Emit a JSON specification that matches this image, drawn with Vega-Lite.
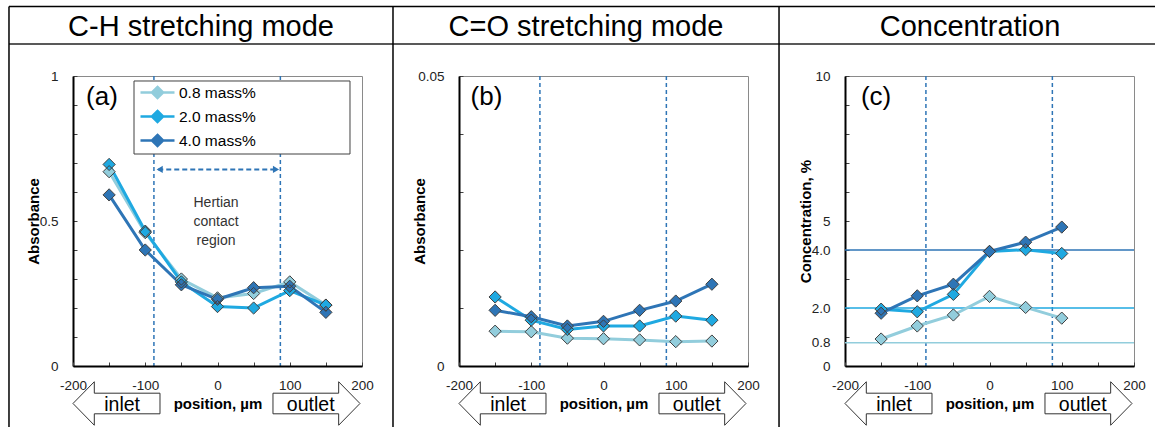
{
  "$schema": "https://vega.github.io/schema/vega-lite/v6.json",
  "background": "white",
  "autosize": {"type": "pad"},
  "padding": {"left": 7, "top": 5, "right": 0, "bottom": 0},
  "spacing": 97,
  "bounds": "flush",
  "datasets": {
    "ch": [
      {"series": "0.8 mass%", "position": -150, "absorbance": 0.67},
      {"series": "0.8 mass%", "position": -100, "absorbance": 0.46},
      {"series": "0.8 mass%", "position": -50, "absorbance": 0.30},
      {"series": "0.8 mass%", "position": 0, "absorbance": 0.235},
      {"series": "0.8 mass%", "position": 50, "absorbance": 0.25},
      {"series": "0.8 mass%", "position": 100, "absorbance": 0.29},
      {"series": "0.8 mass%", "position": 150, "absorbance": 0.21},
      {"series": "2.0 mass%", "position": -150, "absorbance": 0.695},
      {"series": "2.0 mass%", "position": -100, "absorbance": 0.465},
      {"series": "2.0 mass%", "position": -50, "absorbance": 0.29},
      {"series": "2.0 mass%", "position": 0, "absorbance": 0.205},
      {"series": "2.0 mass%", "position": 50, "absorbance": 0.20},
      {"series": "2.0 mass%", "position": 100, "absorbance": 0.26},
      {"series": "2.0 mass%", "position": 150, "absorbance": 0.21},
      {"series": "4.0 mass%", "position": -150, "absorbance": 0.59},
      {"series": "4.0 mass%", "position": -100, "absorbance": 0.40},
      {"series": "4.0 mass%", "position": -50, "absorbance": 0.28},
      {"series": "4.0 mass%", "position": 0, "absorbance": 0.23},
      {"series": "4.0 mass%", "position": 50, "absorbance": 0.27},
      {"series": "4.0 mass%", "position": 100, "absorbance": 0.275},
      {"series": "4.0 mass%", "position": 150, "absorbance": 0.185}
    ],
    "co": [
      {"series": "0.8 mass%", "position": -150, "absorbance": 0.0060},
      {"series": "0.8 mass%", "position": -100, "absorbance": 0.0059},
      {"series": "0.8 mass%", "position": -50, "absorbance": 0.0048},
      {"series": "0.8 mass%", "position": 0, "absorbance": 0.0047},
      {"series": "0.8 mass%", "position": 50, "absorbance": 0.0045},
      {"series": "0.8 mass%", "position": 100, "absorbance": 0.0042},
      {"series": "0.8 mass%", "position": 150, "absorbance": 0.0043},
      {"series": "2.0 mass%", "position": -150, "absorbance": 0.0119},
      {"series": "2.0 mass%", "position": -100, "absorbance": 0.0079},
      {"series": "2.0 mass%", "position": -50, "absorbance": 0.0063},
      {"series": "2.0 mass%", "position": 0, "absorbance": 0.0069},
      {"series": "2.0 mass%", "position": 50, "absorbance": 0.0069},
      {"series": "2.0 mass%", "position": 100, "absorbance": 0.0086},
      {"series": "2.0 mass%", "position": 150, "absorbance": 0.0079},
      {"series": "4.0 mass%", "position": -150, "absorbance": 0.0096},
      {"series": "4.0 mass%", "position": -100, "absorbance": 0.0085},
      {"series": "4.0 mass%", "position": -50, "absorbance": 0.0069},
      {"series": "4.0 mass%", "position": 0, "absorbance": 0.0077},
      {"series": "4.0 mass%", "position": 50, "absorbance": 0.0096},
      {"series": "4.0 mass%", "position": 100, "absorbance": 0.0112},
      {"series": "4.0 mass%", "position": 150, "absorbance": 0.0141}
    ],
    "conc": [
      {"series": "0.8 mass%", "position": -150, "concentration": 0.93},
      {"series": "0.8 mass%", "position": -100, "concentration": 1.38},
      {"series": "0.8 mass%", "position": -50, "concentration": 1.76},
      {"series": "0.8 mass%", "position": 0, "concentration": 2.40},
      {"series": "0.8 mass%", "position": 50, "concentration": 2.02},
      {"series": "0.8 mass%", "position": 100, "concentration": 1.65},
      {"series": "2.0 mass%", "position": -150, "concentration": 1.96},
      {"series": "2.0 mass%", "position": -100, "concentration": 1.87},
      {"series": "2.0 mass%", "position": -50, "concentration": 2.47},
      {"series": "2.0 mass%", "position": 0, "concentration": 3.95},
      {"series": "2.0 mass%", "position": 50, "concentration": 4.01},
      {"series": "2.0 mass%", "position": 100, "concentration": 3.88},
      {"series": "4.0 mass%", "position": -150, "concentration": 1.82},
      {"series": "4.0 mass%", "position": -100, "concentration": 2.42},
      {"series": "4.0 mass%", "position": -50, "concentration": 2.82},
      {"series": "4.0 mass%", "position": 0, "concentration": 3.95},
      {"series": "4.0 mass%", "position": 50, "concentration": 4.27},
      {"series": "4.0 mass%", "position": 100, "concentration": 4.79}
    ],
    "nominal": [
      {"series": "0.8 mass%", "level": 0.8},
      {"series": "2.0 mass%", "level": 2.0},
      {"series": "4.0 mass%", "level": 4.0}
    ],
    "contact": [{"edge": -88}, {"edge": 87}]
  },
  "hconcat": [
    {
      "width": 289,
      "height": 290,
      "layer": [
        {"data": {"values": [{}]}, "mark": {"type": "rule", "color": "#000", "strokeWidth": 1.5},
         "encoding": {"x": {"datum": -288.6, "type": "quantitative", "scale": {"domain": [-200, 200], "nice": false, "zero": false}}, "x2": {"datum": 1297.6},
                      "y": {"datum": 1.23966, "type": "quantitative", "scale": {"domain": [0, 1], "nice": false, "zero": false}}}},
        {"data": {"values": [{}]}, "mark": {"type": "rule", "color": "#222", "strokeWidth": 1.5},
         "encoding": {"x": {"datum": -288.6, "type": "quantitative", "scale": {"domain": [-200, 200], "nice": false, "zero": false}}, "x2": {"datum": 1297.6},
                      "y": {"datum": 1.11034, "type": "quantitative", "scale": {"domain": [0, 1], "nice": false, "zero": false}}}},
        {"data": {"values": [{}]}, "mark": {"type": "rule", "color": "#000", "strokeWidth": 1.5},
         "encoding": {"x": {"datum": -288.6, "type": "quantitative", "scale": {"domain": [-200, 200], "nice": false, "zero": false}},
                      "y": {"datum": 1.23966, "type": "quantitative", "scale": {"domain": [0, 1], "nice": false, "zero": false}}, "y2": {"datum": -0.21034}}},
        {"data": {"values": [{}]}, "mark": {"type": "rule", "color": "#000", "strokeWidth": 1.5},
         "encoding": {"x": {"datum": 242.9, "type": "quantitative", "scale": {"domain": [-200, 200], "nice": false, "zero": false}},
                      "y": {"datum": 1.23966, "type": "quantitative", "scale": {"domain": [0, 1], "nice": false, "zero": false}}, "y2": {"datum": -0.21034}}},
        {"data": {"values": [{}]}, "mark": {"type": "rule", "color": "#000", "strokeWidth": 1.5},
         "encoding": {"x": {"datum": 777.2, "type": "quantitative", "scale": {"domain": [-200, 200], "nice": false, "zero": false}},
                      "y": {"datum": 1.23966, "type": "quantitative", "scale": {"domain": [0, 1], "nice": false, "zero": false}}, "y2": {"datum": -0.21034}}},
        {"data": {"values": [{"label": "C-H stretching mode"}]}, "mark": {"type": "text", "fontSize": 29, "align": "center", "baseline": "middle", "color": "#000"},
         "encoding": {"x": {"datum": -22.8, "type": "quantitative", "scale": {"domain": [-200, 200], "nice": false, "zero": false}},
                      "y": {"datum": 1.16897, "type": "quantitative", "scale": {"domain": [0, 1], "nice": false, "zero": false}},
                      "text": {"field": "label"}}},
        {"data": {"name": "contact"}, "mark": {"type": "rule", "color": "#2E75B6", "strokeWidth": 1.5, "strokeDash": [4, 3]},
         "encoding": {"x": {"field": "edge", "type": "quantitative", "scale": {"domain": [-200, 200], "nice": false, "zero": false}}}},
        {"data": {"values": [{}]}, "mark": {"type": "rect", "fill": "#ffffff", "stroke": "#404040", "strokeWidth": 1},
         "encoding": {"x": {"datum": -115.57, "type": "quantitative", "scale": {"domain": [-200, 200], "nice": false, "zero": false}}, "x2": {"datum": 183.39},
                      "y": {"datum": 0.98276, "type": "quantitative", "scale": {"domain": [0, 1], "nice": false, "zero": false}}, "y2": {"datum": 0.73103}}},
        {"data": {"values": [{}]}, "mark": {"type": "rule", "color": "#2E75B6", "strokeWidth": 2, "strokeDash": [5, 3]},
         "encoding": {"x": {"datum": -82, "type": "quantitative", "scale": {"domain": [-200, 200], "nice": false, "zero": false}}, "x2": {"datum": 82},
                      "y": {"datum": 0.678, "type": "quantitative", "scale": {"domain": [0, 1], "nice": false, "zero": false}}}},
        {"data": {"values": [{}]}, "mark": {"type": "point", "shape": "triangle-left", "size": 50, "filled": true, "color": "#2E75B6", "opacity": 1},
         "encoding": {"x": {"datum": -80, "type": "quantitative", "scale": {"domain": [-200, 200], "nice": false, "zero": false}},
                      "y": {"datum": 0.678, "type": "quantitative", "scale": {"domain": [0, 1], "nice": false, "zero": false}}}},
        {"data": {"values": [{}]}, "mark": {"type": "point", "shape": "triangle-right", "size": 50, "filled": true, "color": "#2E75B6", "opacity": 1},
         "encoding": {"x": {"datum": 81, "type": "quantitative", "scale": {"domain": [-200, 200], "nice": false, "zero": false}},
                      "y": {"datum": 0.678, "type": "quantitative", "scale": {"domain": [0, 1], "nice": false, "zero": false}}}},
        {"data": {"values": [{"label": "Hertian contact region"}]}, "mark": {"type": "text", "fontSize": 14, "lineBreak": " ", "lineHeight": 19, "align": "center", "baseline": "middle", "color": "#333"},
         "encoding": {"x": {"datum": -2, "type": "quantitative", "scale": {"domain": [-200, 200], "nice": false, "zero": false}},
                      "y": {"datum": 0.562, "type": "quantitative", "scale": {"domain": [0, 1], "nice": false, "zero": false}},
                      "text": {"field": "label"}}},
        {"data": {"name": "ch"}, "mark": {"type": "line", "strokeWidth": 3},
         "encoding": {
           "x": {"field": "position", "type": "quantitative", "scale": {"domain": [-200, 200], "nice": false, "zero": false},
                 "axis": {"values": [-200, -150, -100, -50, 0, 50, 100, 150, 200], "tickCount": 100, "labelOverlap": false, "labelPadding": 16, "labelExpr": "datum.value % 100 === 0 ? '' + datum.value : ''", "title": "position, µm", "titleX": 144.5, "titleY": 37, "titleBaseline": "middle", "titleAlign": "center", "zindex": 1}},
           "y": {"field": "absorbance", "type": "quantitative", "scale": {"domain": [0, 1], "nice": false, "zero": false},
                 "axis": {"values": [0, 0.1, 0.2, 0.3, 0.4, 0.5, 0.6, 0.7, 0.8, 0.9, 1], "tickCount": 100, "labelOverlap": false, "labelPadding": 19, "labelExpr": "(datum.value === 0 || datum.value === 0.5 || datum.value === 1) ? '' + datum.value : ''", "title": "Absorbance", "titleX": -40, "titleY": 145, "titleAngle": -90, "titleBaseline": "middle", "titleAlign": "center"}},
           "stroke": {"field": "series", "type": "nominal", "title": null, "scale": {"domain": ["0.8 mass%", "2.0 mass%", "4.0 mass%"], "range": ["#92CDDC", "#1FA9E1", "#2E75B6"]},
                      "legend": {"orient": "none", "legendX": 61, "legendY": 2, "padding": 5, "symbolType": "M-1,0 L0.425,0 M1.825,0 L3.25,0 M1.125,-0.7 L1.825,0 L1.125,0.7 L0.425,0 Z", "symbolSize": 256, "symbolStrokeWidth": 2.5, "labelFontSize": 15.5, "labelOffset": 21, "rowPadding": 1, "labelColor": "#000"}}
         }},
        {"data": {"name": "ch"}, "mark": {"type": "point", "shape": "diamond", "filled": true, "size": 150, "opacity": 1},
         "encoding": {
           "x": {"field": "position", "type": "quantitative", "scale": {"domain": [-200, 200], "nice": false, "zero": false}},
           "y": {"field": "absorbance", "type": "quantitative", "scale": {"domain": [0, 1], "nice": false, "zero": false}},
           "fill": {"field": "series", "type": "nominal", "title": null, "scale": {"domain": ["0.8 mass%", "2.0 mass%", "4.0 mass%"], "range": ["#92CDDC", "#1FA9E1", "#2E75B6"]},
                    "legend": {"orient": "none", "legendX": 61, "legendY": 2, "padding": 5, "symbolType": "M-1,0 L0.425,0 M1.825,0 L3.25,0 M1.125,-0.7 L1.825,0 L1.125,0.7 L0.425,0 Z", "symbolSize": 256, "symbolStrokeWidth": 2.5, "labelFontSize": 15.5, "labelOffset": 21, "rowPadding": 1, "labelColor": "#000"}}
         }},
        {"data": {"name": "ch"}, "mark": {"type": "point", "shape": "diamond", "filled": false, "size": 150, "stroke": "#404040", "strokeWidth": 1, "opacity": 1},
         "encoding": {
           "x": {"field": "position", "type": "quantitative", "scale": {"domain": [-200, 200], "nice": false, "zero": false}},
           "y": {"field": "absorbance", "type": "quantitative", "scale": {"domain": [0, 1], "nice": false, "zero": false}}
         }},
        {"data": {"values": [{"label": "(a)"}]}, "mark": {"type": "text", "fontSize": 26, "align": "center", "baseline": "middle", "color": "#000"},
         "encoding": {"x": {"datum": -160, "type": "quantitative", "scale": {"domain": [-200, 200], "nice": false, "zero": false}},
                      "y": {"datum": 0.92759, "type": "quantitative", "scale": {"domain": [0, 1], "nice": false, "zero": false}},
                      "text": {"field": "label"}}},
        {"data": {"values": [{}]}, "mark": {"type": "point", "shape": "M-1,0 L-0.51,-0.5 L-0.51,-0.237 L1,-0.237 L1,0.237 L-0.51,0.237 L-0.51,0.5 Z", "size": 7569, "filled": true, "fill": "#ffffff", "stroke": "#333333", "strokeWidth": 1, "opacity": 1},
         "encoding": {"x": {"datum": -139.8, "type": "quantitative", "scale": {"domain": [-200, 200], "nice": false, "zero": false}},
                      "y": {"datum": -0.12931, "type": "quantitative", "scale": {"domain": [0, 1], "nice": false, "zero": false}}}},
        {"data": {"values": [{}]}, "mark": {"type": "point", "shape": "M1,0 L0.51,-0.5 L0.51,-0.237 L-1,-0.237 L-1,0.237 L0.51,0.237 L0.51,0.5 Z", "size": 7569, "filled": true, "fill": "#ffffff", "stroke": "#333333", "strokeWidth": 1, "opacity": 1},
         "encoding": {"x": {"datum": 137, "type": "quantitative", "scale": {"domain": [-200, 200], "nice": false, "zero": false}},
                      "y": {"datum": -0.12931, "type": "quantitative", "scale": {"domain": [0, 1], "nice": false, "zero": false}}}},
        {"data": {"values": [{"label": "inlet"}]}, "mark": {"type": "text", "fontSize": 19.5, "align": "center", "baseline": "middle", "color": "#000"},
         "encoding": {"x": {"datum": -132, "type": "quantitative", "scale": {"domain": [-200, 200], "nice": false, "zero": false}},
                      "y": {"datum": -0.13448, "type": "quantitative", "scale": {"domain": [0, 1], "nice": false, "zero": false}},
                      "text": {"field": "label"}}},
        {"data": {"values": [{"label": "outlet"}]}, "mark": {"type": "text", "fontSize": 19.5, "align": "center", "baseline": "middle", "color": "#000"},
         "encoding": {"x": {"datum": 129, "type": "quantitative", "scale": {"domain": [-200, 200], "nice": false, "zero": false}},
                      "y": {"datum": -0.13448, "type": "quantitative", "scale": {"domain": [0, 1], "nice": false, "zero": false}},
                      "text": {"field": "label"}}}
      ]
    },
    {
      "width": 289,
      "height": 290,
      "layer": [
        {"data": {"values": [{"label": "C=O stretching mode"}]}, "mark": {"type": "text", "fontSize": 29, "align": "center", "baseline": "middle", "color": "#000"},
         "encoding": {"x": {"datum": -24.2, "type": "quantitative", "scale": {"domain": [-200, 200], "nice": false, "zero": false}},
                      "y": {"datum": 0.058448, "type": "quantitative", "scale": {"domain": [0, 0.05], "nice": false, "zero": false}},
                      "text": {"field": "label"}}},
        {"data": {"name": "contact"}, "mark": {"type": "rule", "color": "#2E75B6", "strokeWidth": 1.5, "strokeDash": [4, 3]},
         "encoding": {"x": {"field": "edge", "type": "quantitative", "scale": {"domain": [-200, 200], "nice": false, "zero": false}}}},
        {"data": {"name": "co"}, "mark": {"type": "line", "strokeWidth": 3},
         "encoding": {
           "x": {"field": "position", "type": "quantitative", "scale": {"domain": [-200, 200], "nice": false, "zero": false},
                 "axis": {"values": [-200, -150, -100, -50, 0, 50, 100, 150, 200], "tickCount": 100, "labelOverlap": false, "labelPadding": 16, "labelExpr": "datum.value % 100 === 0 ? '' + datum.value : ''", "title": "position, µm", "titleX": 144.5, "titleY": 37, "titleBaseline": "middle", "titleAlign": "center", "zindex": 1}},
           "y": {"field": "absorbance", "type": "quantitative", "scale": {"domain": [0, 0.05], "nice": false, "zero": false},
                 "axis": {"values": [0, 0.01, 0.02, 0.03, 0.04, 0.05], "tickCount": 100, "labelOverlap": false, "labelPadding": 19, "labelExpr": "(datum.value === 0 || datum.value === 0.05) ? '' + datum.value : ''", "title": "Absorbance", "titleX": -40, "titleY": 145, "titleAngle": -90, "titleBaseline": "middle", "titleAlign": "center"}},
           "stroke": {"field": "series", "type": "nominal", "title": null, "scale": {"domain": ["0.8 mass%", "2.0 mass%", "4.0 mass%"], "range": ["#92CDDC", "#1FA9E1", "#2E75B6"]}}
         }},
        {"data": {"name": "co"}, "mark": {"type": "point", "shape": "diamond", "filled": true, "size": 150, "opacity": 1},
         "encoding": {
           "x": {"field": "position", "type": "quantitative", "scale": {"domain": [-200, 200], "nice": false, "zero": false}},
           "y": {"field": "absorbance", "type": "quantitative", "scale": {"domain": [0, 0.05], "nice": false, "zero": false}},
           "fill": {"field": "series", "type": "nominal", "title": null, "scale": {"domain": ["0.8 mass%", "2.0 mass%", "4.0 mass%"], "range": ["#92CDDC", "#1FA9E1", "#2E75B6"]}}
         }},
        {"data": {"name": "co"}, "mark": {"type": "point", "shape": "diamond", "filled": false, "size": 150, "stroke": "#404040", "strokeWidth": 1, "opacity": 1},
         "encoding": {
           "x": {"field": "position", "type": "quantitative", "scale": {"domain": [-200, 200], "nice": false, "zero": false}},
           "y": {"field": "absorbance", "type": "quantitative", "scale": {"domain": [0, 0.05], "nice": false, "zero": false}}
         }},
        {"data": {"values": [{"label": "(b)"}]}, "mark": {"type": "text", "fontSize": 26, "align": "center", "baseline": "middle", "color": "#000"},
         "encoding": {"x": {"datum": -162, "type": "quantitative", "scale": {"domain": [-200, 200], "nice": false, "zero": false}},
                      "y": {"datum": 0.046379, "type": "quantitative", "scale": {"domain": [0, 0.05], "nice": false, "zero": false}},
                      "text": {"field": "label"}}},
        {"data": {"values": [{}]}, "mark": {"type": "point", "shape": "M-1,0 L-0.51,-0.5 L-0.51,-0.237 L1,-0.237 L1,0.237 L-0.51,0.237 L-0.51,0.5 Z", "size": 7569, "filled": true, "fill": "#ffffff", "stroke": "#333333", "strokeWidth": 1, "opacity": 1},
         "encoding": {"x": {"datum": -139.8, "type": "quantitative", "scale": {"domain": [-200, 200], "nice": false, "zero": false}},
                      "y": {"datum": -0.006466, "type": "quantitative", "scale": {"domain": [0, 0.05], "nice": false, "zero": false}}}},
        {"data": {"values": [{}]}, "mark": {"type": "point", "shape": "M1,0 L0.51,-0.5 L0.51,-0.237 L-1,-0.237 L-1,0.237 L0.51,0.237 L0.51,0.5 Z", "size": 7569, "filled": true, "fill": "#ffffff", "stroke": "#333333", "strokeWidth": 1, "opacity": 1},
         "encoding": {"x": {"datum": 137, "type": "quantitative", "scale": {"domain": [-200, 200], "nice": false, "zero": false}},
                      "y": {"datum": -0.006466, "type": "quantitative", "scale": {"domain": [0, 0.05], "nice": false, "zero": false}}}},
        {"data": {"values": [{"label": "inlet"}]}, "mark": {"type": "text", "fontSize": 19.5, "align": "center", "baseline": "middle", "color": "#000"},
         "encoding": {"x": {"datum": -132, "type": "quantitative", "scale": {"domain": [-200, 200], "nice": false, "zero": false}},
                      "y": {"datum": -0.0067241, "type": "quantitative", "scale": {"domain": [0, 0.05], "nice": false, "zero": false}},
                      "text": {"field": "label"}}},
        {"data": {"values": [{"label": "outlet"}]}, "mark": {"type": "text", "fontSize": 19.5, "align": "center", "baseline": "middle", "color": "#000"},
         "encoding": {"x": {"datum": 129, "type": "quantitative", "scale": {"domain": [-200, 200], "nice": false, "zero": false}},
                      "y": {"datum": -0.0067241, "type": "quantitative", "scale": {"domain": [0, 0.05], "nice": false, "zero": false}},
                      "text": {"field": "label"}}}
      ]
    },
    {
      "width": 289,
      "height": 290,
      "layer": [
        {"data": {"values": [{"label": "Concentration"}]}, "mark": {"type": "text", "fontSize": 29, "align": "center", "baseline": "middle", "color": "#000"},
         "encoding": {"x": {"datum": -27.0, "type": "quantitative", "scale": {"domain": [-200, 200], "nice": false, "zero": false}},
                      "y": {"datum": 11.6897, "type": "quantitative", "scale": {"domain": [0, 10], "nice": false, "zero": false}},
                      "text": {"field": "label"}}},
        {"data": {"name": "contact"}, "mark": {"type": "rule", "color": "#2E75B6", "strokeWidth": 1.5, "strokeDash": [4, 3]},
         "encoding": {"x": {"field": "edge", "type": "quantitative", "scale": {"domain": [-200, 200], "nice": false, "zero": false}}}},
        {"data": {"name": "nominal"}, "mark": {"type": "rule", "strokeWidth": 1.5},
         "encoding": {"y": {"field": "level", "type": "quantitative", "scale": {"domain": [0, 10], "nice": false, "zero": false}},
                      "stroke": {"field": "series", "type": "nominal", "title": null, "scale": {"domain": ["0.8 mass%", "2.0 mass%", "4.0 mass%"], "range": ["#92CDDC", "#1FA9E1", "#2E75B6"]}}}},
        {"data": {"name": "conc"}, "mark": {"type": "line", "strokeWidth": 3},
         "encoding": {
           "x": {"field": "position", "type": "quantitative", "scale": {"domain": [-200, 200], "nice": false, "zero": false},
                 "axis": {"values": [-200, -150, -100, -50, 0, 50, 100, 150, 200], "tickCount": 100, "labelOverlap": false, "labelPadding": 16, "labelExpr": "datum.value % 100 === 0 ? '' + datum.value : ''", "title": "position, µm", "titleX": 144.5, "titleY": 37, "titleBaseline": "middle", "titleAlign": "center", "zindex": 1}},
           "y": {"field": "concentration", "type": "quantitative", "scale": {"domain": [0, 10], "nice": false, "zero": false},
                 "axis": {"values": [0, 0.8, 1, 2, 3, 4, 5, 6, 7, 8, 9, 10], "tickCount": 100, "labelOverlap": false, "labelPadding": 19, "labelExpr": "datum.value === 0.8 ? '0.8' : datum.value === 2 ? '2.0' : datum.value === 4 ? '4.0' : (datum.value === 0 || datum.value === 5 || datum.value === 10) ? '' + datum.value : ''", "tickOpacity": {"condition": {"test": "datum.value === 0.8", "value": 0}, "value": 1}, "title": "Concentration, %", "titleX": -40, "titleY": 145, "titleAngle": -90, "titleBaseline": "middle", "titleAlign": "center"}},
           "stroke": {"field": "series", "type": "nominal", "title": null, "scale": {"domain": ["0.8 mass%", "2.0 mass%", "4.0 mass%"], "range": ["#92CDDC", "#1FA9E1", "#2E75B6"]}}
         }},
        {"data": {"name": "conc"}, "mark": {"type": "point", "shape": "diamond", "filled": true, "size": 150, "opacity": 1},
         "encoding": {
           "x": {"field": "position", "type": "quantitative", "scale": {"domain": [-200, 200], "nice": false, "zero": false}},
           "y": {"field": "concentration", "type": "quantitative", "scale": {"domain": [0, 10], "nice": false, "zero": false}},
           "fill": {"field": "series", "type": "nominal", "title": null, "scale": {"domain": ["0.8 mass%", "2.0 mass%", "4.0 mass%"], "range": ["#92CDDC", "#1FA9E1", "#2E75B6"]}}
         }},
        {"data": {"name": "conc"}, "mark": {"type": "point", "shape": "diamond", "filled": false, "size": 150, "stroke": "#404040", "strokeWidth": 1, "opacity": 1},
         "encoding": {
           "x": {"field": "position", "type": "quantitative", "scale": {"domain": [-200, 200], "nice": false, "zero": false}},
           "y": {"field": "concentration", "type": "quantitative", "scale": {"domain": [0, 10], "nice": false, "zero": false}}
         }},
        {"data": {"values": [{"label": "(c)"}]}, "mark": {"type": "text", "fontSize": 26, "align": "center", "baseline": "middle", "color": "#000"},
         "encoding": {"x": {"datum": -157, "type": "quantitative", "scale": {"domain": [-200, 200], "nice": false, "zero": false}},
                      "y": {"datum": 9.2759, "type": "quantitative", "scale": {"domain": [0, 10], "nice": false, "zero": false}},
                      "text": {"field": "label"}}},
        {"data": {"values": [{}]}, "mark": {"type": "point", "shape": "M-1,0 L-0.51,-0.5 L-0.51,-0.237 L1,-0.237 L1,0.237 L-0.51,0.237 L-0.51,0.5 Z", "size": 7569, "filled": true, "fill": "#ffffff", "stroke": "#333333", "strokeWidth": 1, "opacity": 1},
         "encoding": {"x": {"datum": -139.8, "type": "quantitative", "scale": {"domain": [-200, 200], "nice": false, "zero": false}},
                      "y": {"datum": -1.2931, "type": "quantitative", "scale": {"domain": [0, 10], "nice": false, "zero": false}}}},
        {"data": {"values": [{}]}, "mark": {"type": "point", "shape": "M1,0 L0.51,-0.5 L0.51,-0.237 L-1,-0.237 L-1,0.237 L0.51,0.237 L0.51,0.5 Z", "size": 7569, "filled": true, "fill": "#ffffff", "stroke": "#333333", "strokeWidth": 1, "opacity": 1},
         "encoding": {"x": {"datum": 137, "type": "quantitative", "scale": {"domain": [-200, 200], "nice": false, "zero": false}},
                      "y": {"datum": -1.2931, "type": "quantitative", "scale": {"domain": [0, 10], "nice": false, "zero": false}}}},
        {"data": {"values": [{"label": "inlet"}]}, "mark": {"type": "text", "fontSize": 19.5, "align": "center", "baseline": "middle", "color": "#000"},
         "encoding": {"x": {"datum": -132, "type": "quantitative", "scale": {"domain": [-200, 200], "nice": false, "zero": false}},
                      "y": {"datum": -1.3448, "type": "quantitative", "scale": {"domain": [0, 10], "nice": false, "zero": false}},
                      "text": {"field": "label"}}},
        {"data": {"values": [{"label": "outlet"}]}, "mark": {"type": "text", "fontSize": 19.5, "align": "center", "baseline": "middle", "color": "#000"},
         "encoding": {"x": {"datum": 129, "type": "quantitative", "scale": {"domain": [-200, 200], "nice": false, "zero": false}},
                      "y": {"datum": -1.3448, "type": "quantitative", "scale": {"domain": [0, 10], "nice": false, "zero": false}},
                      "text": {"field": "label"}}}
      ]
    }
  ],
  "config": {
    "font": "Liberation Sans",
    "view": {"stroke": "#8a8a8a", "strokeWidth": 1},
    "axis": {"domainColor": "#000", "domainWidth": 2, "tickColor": "#404040", "tickSize": -4, "tickWidth": 1, "labelFontSize": 13.5, "labelColor": "#222", "labelPadding": 18, "titleFontSize": 15, "titleFontWeight": "bold", "titleColor": "#000", "grid": false, "labelFlush": false, "labelOverlap": false}
  }
}
